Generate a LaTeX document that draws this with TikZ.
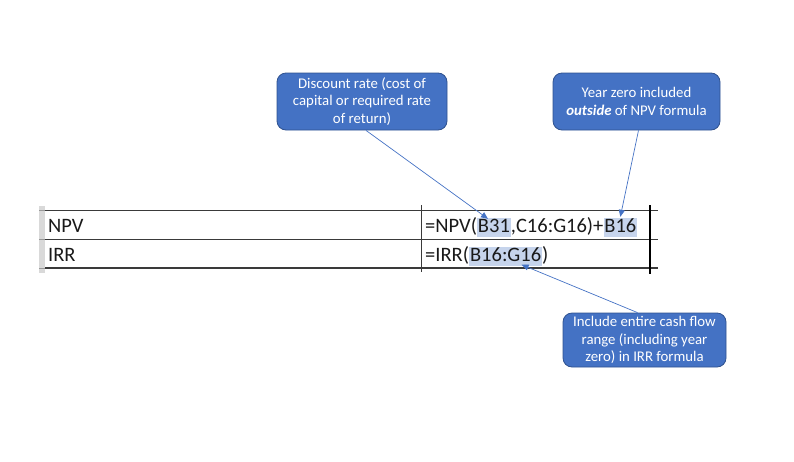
\documentclass[tikz,border=0pt]{standalone}
\usepackage{fontspec}
\setmainfont{Carlito}
\usetikzlibrary{arrows.meta,calc}
\definecolor{boxblue}{HTML}{4472C4}
\definecolor{boxedge}{HTML}{2F528F}
\definecolor{hlblue}{HTML}{C6D4EC}
\definecolor{gridline}{HTML}{3A3A3A}
\tikzset{
  callout/.style={draw=boxedge, line width=0.8pt, fill=boxblue, rounded corners=9pt,
    text=white, font=\fontsize{14.8}{17.5}\selectfont, align=center, inner sep=0pt},
  cell/.style={font=\fontsize{20.5}{24}\selectfont, inner sep=0pt, anchor=base west, text=black!90},
  hl/.style={cell, fill=hlblue, inner xsep=0.6pt, text height=14pt, text depth=4.5pt},
  pointer/.style={draw=boxblue, line width=0.7pt, -{Triangle[length=7pt,width=6pt]}},
  grid/.style={draw=gridline, line width=0.9pt}
}
\begin{document}
\begin{tikzpicture}[x=1pt,y=-1pt]
\useasboundingbox (0,0) rectangle (794,461);
% left header strip
\fill[black!15] (39,206) rectangle (45,273);
\draw[black!40, line width=0.6pt] (39,210) -- (45,210) (39,239) -- (45,239) (39,268) -- (45,268);
% grid lines
\draw[grid] (45,210) -- (658,210);
\draw[grid] (45,239) -- (658,239);
\draw[draw=gridline, line width=1.8pt] (45,268) -- (658,268);
\draw[grid] (421,205) -- (421,272);
\draw[draw=black, line width=1.4pt] (650,205) -- (650,274);
% cells
\node[cell] (npv) at (48,232) {NPV};
\node[cell] (irr) at (48,261) {IRR};
% formula 1
\node[cell] (f1a) at (425,232) {=NPV(};
\node[hl] (b31) at (f1a.base east) {B31};
\node[cell] (f1b) at (b31.base east) {,C16:G16)+};
\node[hl] (b16) at (f1b.base east) {B16};
% formula 2
\node[cell] (f2a) at (425,261) {=IRR(};
\node[hl] (rng) at (f2a.base east) {B16:G16};
\node[cell] (f2b) at (rng.base east) {)};
% callouts
\node[callout, minimum width=170pt, minimum height=57pt] (c1) at (362,101.5)
  {Discount rate (cost of\\capital or required rate\\of return)};
\node[callout, minimum width=167pt, minimum height=57pt] (c2) at (636.5,101.5)
  {Year zero included\\\textbf{\textit{outside}} of NPV formula};
\node[callout, minimum width=163pt, minimum height=54pt] (c3) at (644.5,340)
  {Include entire cash flow\\range (including year\\zero) in IRR formula};
% pointers
\draw[pointer] ($(c1.south)+(4,0)$) -- ($(b31.north)+(-6,1)$);
\draw[pointer] ($(c2.south)+(2,0)$) -- ($(b16.north)+(0,-1)$);
\draw[pointer] ($(c3.north)+(-7,0)$) -- ($(rng.south)+(16,-1)$);
\end{tikzpicture}
\end{document}
